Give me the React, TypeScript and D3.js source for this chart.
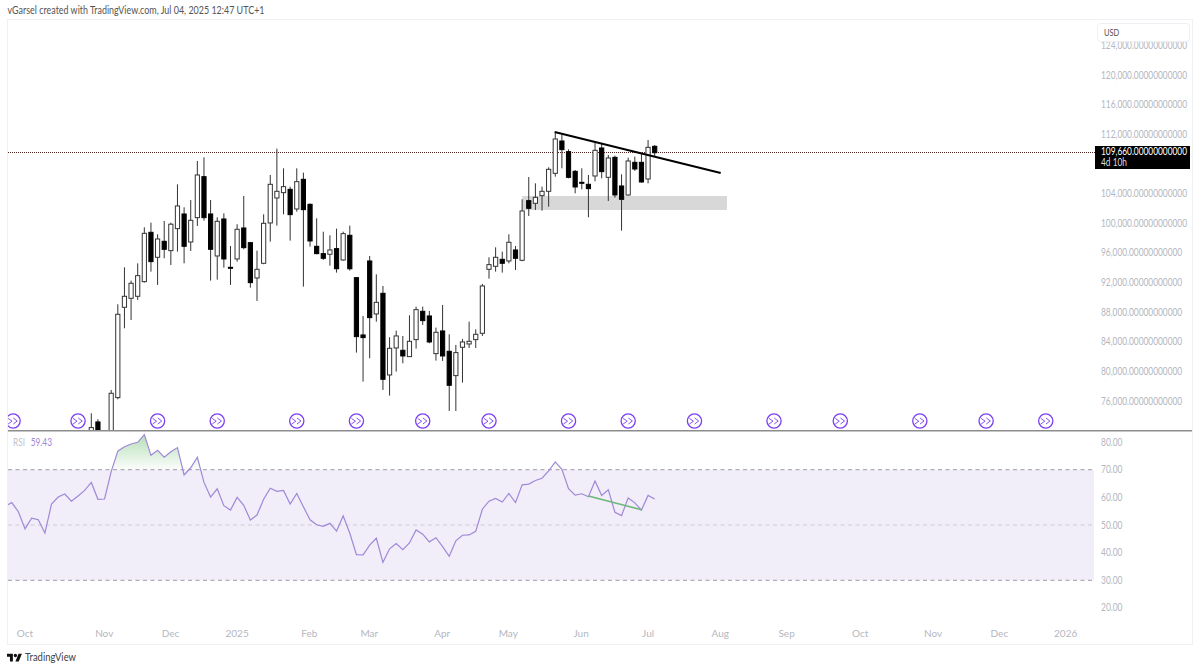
import React from "react";
import * as d3 from "d3";

// Bar index 0 is the first candle partly visible above the lower edge of the price pane.
const opens = [70877,73307,68000,71777,76592,88787,90002,90272,92252,98912,95537,97697,96437,99407,101387,97607,100892,106427,101387,95717,100712,94187,95312,99497,97517,92747,94727,100172,103547,104267,104717,102062,106067,102692,97022,96032,95942,96707,95177,98507,92792,85052,95042,87887,90677,79652,83297,82982,82127,84422,88247,87617,82532,85592,82847,79562,83387,83837,84422,85277,93917,94322,95267,95042,96527,95132,103187,102827,103862,104447,106877,111242,109802,107147,105662,105392,106517,110297,106337,109037,105167,103952,108362,108362,106112,110522];
const highs = [74477,73667,72000,77627,89192,94187,92387,94727,99587,100217,98642,100442,100217,105392,102287,103277,108542,109037,103277,100937,101477,97067,100007,103817,97600,96437,101342,106652,110207,107552,105077,107552,106967,102800,100802,98992,98507,99407,98997,99812,92792,87617,95717,93242,91667,84737,85637,84917,87707,88877,88877,88292,86042,89102,85142,83702,84512,86852,85817,91937,95537,96887,96302,98642,97067,103367,106382,105527,105077,107687,112367,112052,110117,107327,107552,106652,111017,110837,109352,109262,106742,108992,109127,109577,111377,110702];
const lows = [69527,68852,67500,71100,76367,85952,87077,89777,92117,93602,91802,95402,94502,96302,94727,96392,99767,100487,92387,92522,94142,91802,94952,96617,91442,89642,94600,97652,99812,101342,97787,101702,91577,96977,95942,95177,94412,93467,95087,93737,82667,78752,81902,86852,77627,76862,80102,81227,82100,83207,86402,83927,81587,81542,74792,74792,78617,83297,83297,84917,92657,93602,93467,94727,93827,95000,101117,101927,101837,102377,106427,107552,106202,104177,104717,100937,105797,106202,103142,103592,99137,103862,107192,105617,105527,109127];
const closes = [72542,69527,71500,77177,87842,90272,92027,93062,98777,94952,98012,96617,100007,102467,97022,100532,106652,100892,96617,100397,95312,94052,99317,96842,92117,93917,100127,105392,104447,105077,101297,105752,101972,97742,96032,95402,96527,93992,98732,93992,84827,84692,87392,89462,79067,83252,84917,82217,84197,88472,86987,84107,85412,82217,78257,82667,84107,84197,85142,91667,94547,95537,94727,97562,95402,101792,102152,103637,104447,107417,111512,110072,106337,105032,105527,104807,109982,107102,108947,103952,103367,108542,107462,105707,110387,109660];

// RSI begins 13 bars before the first candle.
const rsiFirstBar = -13;
const rsiValues = [56.8,58.1,54.8,48.6,52.5,51.9,47.1,57.6,60.1,61.2,58.6,60.5,62.5,65.4,59.3,59.4,69.3,76.7,78.3,79.3,79.9,82.7,75.2,77,74.5,76.5,78,68.1,70.7,74.5,65.4,60.1,63.1,57,55.4,60,57.1,51.8,53.6,59.3,63.3,62.2,62.5,57.6,61.4,56.6,51.9,50.1,49.5,50.6,47.8,53.3,47,39.3,39.2,42.7,45.2,36.5,41.4,43.3,41.1,43.5,48.2,46.7,43.9,45.4,42.2,38.7,44.3,46.3,46.4,47.7,55.7,58.6,59.6,58.3,61.4,58.1,64.5,64.8,66.1,66.9,69.6,72.8,70.1,63.1,60.8,61.3,60.2,65.9,60.7,62.7,54.6,53.4,59.8,58,55.4,60.7,59.43];

// The 108,000 tick sits behind the last-price tag in the reference, so it is not listed.
const priceTicks = [124000,120000,116000,112000,104000,100000,96000,92000,88000,84000,80000,76000];
const rsiTicks = [80,70,60,50,40,30,20];
const rsiBands = [70,50,30];
const eventBars = [-11.8,-2,10,19,31,40,50,60,72,81,91,103,113,125,135,144];
const monthLabels = ["Oct","Nov","Dec","2025","Feb","Mar","Apr","May","Jun","Jul","Aug","Sep","Oct","Nov","Dec","2026"];
const monthBars = [-10.0,1.95,11.95,22,32.9,41.95,52.95,62.9,73.9,84,94.9,104.9,116,127,137,147];
const lastPrice = 109660;
const lastRsi = 59.43;
const trendBars = [69.9,94.96];
const trendPrices = [112457,106922];
const zoneBars = [65.03,95.9];
const zonePrices = [103817,101927];
const rsiTrendBars = [75,83];
const rsiTrendValues = [60.5,55.5];

const FONT = "Lato, 'Noto Sans', sans-serif";
const bars = opens.map((o, i) => ({ i, o, h: highs[i], l: lows[i], c: closes[i] }));
const x = d3.scaleLinear().domain([0, 85]).range([91.3, 654.7]);
const y = d3.scaleLinear().domain([76000, 124000]).range([402, 46.5]);
const r = d3.scaleLinear().domain([70, 30]).range([469.7, 580.3]);
const rsiPoints: [number, number][] = rsiValues.map((v, k) => [k + rsiFirstBar, v]);
const rsiLine = d3.line<[number, number]>().x(d => x(d[0])).y(d => r(d[1]));
const rsiArea = d3.area<[number, number]>().x(d => x(d[0])).y0(r(70)).y1(d => r(d[1]));
const priceFmt = (p: number) => d3.format(",")(p) + ".00000000000";

function EventIcon({ cx, cy }: { cx: number; cy: number }) {
  return (
    <g transform={`translate(${cx},${cy})`} fill="none" stroke="#7b3ff2" strokeWidth={0.9}>
      <circle r={7.1} fill="#fff" strokeWidth={1.3} />
      <path d="M-5,-2.6 L-1,0.2 L-5,3" />
      <path d="M0.2,-3 L4.2,0 L0.2,3" />
    </g>
  );
}

// Long price labels: horizontally condensed Lato, so they end where the reference's do.
function PriceLabel({ py, fill, value }: { py: number; fill: string; value: number }) {
  return (
    <text transform={`translate(1101,${py}) scale(0.795,1)`} fontSize={10.5} fill={fill}>{priceFmt(value)}</text>
  );
}

const squeezed = { lengthAdjust: "spacingAndGlyphs" as const };

export default function App() {
  return (
    <svg width={1200} height={670} style={{ position: "absolute", left: 0, top: 0, background: "#fff", fontFamily: FONT }}>
      <defs>
        <clipPath id="pricePane"><rect x={8} y={20} width={1087} height={410} /></clipPath>
        <clipPath id="rsiPane"><rect x={8} y={432} width={1087} height={212} /></clipPath>
        <clipPath id="overbought"><rect x={8} y={432} width={1087} height={r(70) - 432} /></clipPath>
        <linearGradient id="obGrad" x1="0" x2="0" gradientUnits="userSpaceOnUse" y1={r(83)} y2={r(70)}>
          <stop offset="0" stopColor="#4caf50" stopOpacity={0.42} />
          <stop offset="1" stopColor="#4caf50" stopOpacity={0.02} />
        </linearGradient>
      </defs>

      <text x={7.5} y={14} fontSize={10.5} fill="#555" textLength={257} {...squeezed}>vGarsel created with TradingView.com, Jul 04, 2025 12:47 UTC+1</text>

      <rect x={7.5} y={19.5} width={1185} height={625} fill="none" stroke="#f0f1f4" />

      {/* Price pane */}
      <g clipPath="url(#pricePane)">
        <rect x={x(zoneBars[0])} width={x(zoneBars[1]) - x(zoneBars[0])} y={y(zonePrices[0])} height={y(zonePrices[1]) - y(zonePrices[0])} fill="#d8d8d8" />
        <line x1={8} x2={1095} y1={y(lastPrice)} y2={y(lastPrice)} stroke="#4f2222" strokeDasharray="1 1" shapeRendering="crispEdges" />
        {bars.map(b => {
          const up = b.c >= b.o;
          const top = y(Math.max(b.o, b.c));
          const bot = y(Math.min(b.o, b.c));
          return (
            <g key={b.i}>
              <line x1={x(b.i)} x2={x(b.i)} y1={y(b.h)} y2={y(b.l)} stroke="#333" strokeWidth={1} />
              <rect x={x(b.i) - 2.1} width={4.2} y={top} height={Math.max(bot - top, 0.8)} fill={up ? "#fff" : "#000"} stroke={up ? "#333" : "#000"} strokeWidth={1} />
            </g>
          );
        })}
        <line x1={x(trendBars[0])} x2={x(trendBars[1])} y1={y(trendPrices[0])} y2={y(trendPrices[1])} stroke="#000" strokeWidth={1.9} />
        {eventBars.map(b => <EventIcon key={b} cx={x(b)} cy={421} />)}
      </g>

      <line x1={8} x2={1192} y1={430.8} y2={430.8} stroke="#8c8c8c" strokeWidth={1.4} />

      {/* RSI pane */}
      <g clipPath="url(#rsiPane)">
        <rect x={8} width={1086} y={r(70)} height={r(30) - r(70)} fill="#f1edf9" />
        {rsiBands.map(b => (
          <line key={b} x1={8} x2={1094} y1={r(b)} y2={r(b)} stroke={b === 50 ? "#cfccd6" : "#a09ca8"} strokeDasharray="4 3.5" strokeWidth={1} />
        ))}
        <path d={rsiArea(rsiPoints) ?? ""} fill="url(#obGrad)" clipPath="url(#overbought)" />
        <path d={rsiLine(rsiPoints) ?? ""} fill="none" stroke="#a088d8" strokeWidth={1.2} />
        <line x1={x(rsiTrendBars[0])} x2={x(rsiTrendBars[1])} y1={r(rsiTrendValues[0])} y2={r(rsiTrendValues[1])} stroke="#6cb878" strokeWidth={1.5} />
      </g>
      <text x={13} y={445.5} fontSize={10.5} fill="#c3c3cc" textLength={12} {...squeezed}>RSI</text>
      <text x={30.7} y={445.5} fontSize={10.5} fill="#a088d8" textLength={21.3} {...squeezed}>{lastRsi.toFixed(2)}</text>

      {/* Price axis */}
      {priceTicks.map(p => (
        <PriceLabel key={p} py={y(p) + 2.5} fill="#b4b7c0" value={p} />
      ))}
      <rect x={1097.5} y={23.5} width={92} height={18} rx={3} fill="#fff" stroke="#eeeff2" />
      <text x={1104} y={36} fontSize={10} fill="#555" textLength={15.3} {...squeezed}>USD</text>
      <rect x={1095} y={146} width={95} height={23} fill="#000" />
      <PriceLabel py={155} fill="#fff" value={lastPrice} />
      <text x={1101} y={166} fontSize={10.5} fill="#ddd" textLength={26} {...squeezed}>4d 10h</text>

      {/* RSI axis */}
      {rsiTicks.map(t => (
        <text key={t} x={1101} y={r(t) + 3.5} fontSize={10.5} fill="#b4b7c0" textLength={21.5} {...squeezed}>{t.toFixed(2)}</text>
      ))}

      {/* Time axis */}
      {monthLabels.map((m, k) => (
        <text key={k} x={x(monthBars[k])} y={637} fontSize={10} fill="#b4b7c0" textAnchor="middle">{m}</text>
      ))}

      {/* Logo */}
      <g transform="translate(7,653) scale(0.42)" fill="#111">
        <path d="M14 20H7V9H0V2h14v18zM28 20h-8l7.5-18h8L28 20z" />
        <circle cx={20} cy={6} r={4} />
      </g>
      <text x={25} y={661} fontSize={11} fill="#444" textLength={51} {...squeezed}>TradingView</text>
    </svg>
  );
}
